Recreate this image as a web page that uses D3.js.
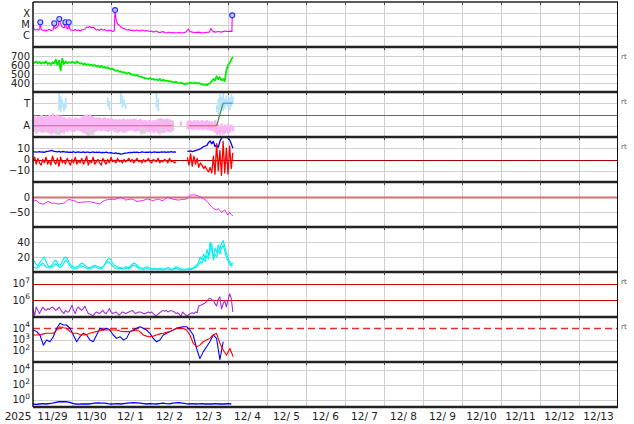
<!DOCTYPE html>
<html><head><meta charset="utf-8">
<script src="https://cdn.jsdelivr.net/npm/d3@7"></script>
<style>body{margin:0;background:#fff}svg{display:block}text{font-family:"DejaVu Sans",sans-serif;fill:#222}</style>
</head><body><svg id="c" width="634" height="424"></svg>
<script>
// ---------------- DATA ----------------
const startDay = "2025-11-29", endDay = "2025-12-14";
const yearLabel = "2025";

// X-ray flux (W/m2)
const xrayHour = [0,0.6,1.5,2.5,3.5,4.1,4.5,5.0,5.8,7,8,9,10,11,12.3,13.1,13.6,14.5,15.5,16.2,17,18,19.3,19.9,20.5,21.5,22.0,22.6,23.5,25,26,27,28,29,30,31,32,33,34,35,36,37,38,39,40,41,42,43,44,45,46,47,48,49,50.0,50.5,51.2,52,53,54,55,56,57,58,59,60,61,62,63,64,65,66,67,68,69,70,71,72,73,74,75,76,77,78,79,80,81,82,83,84,85,86,88,90,92,94,95.6,96.5,98,100,102,104,106,108.5,109.5,110.5,112,114,116,118,120,122,122.4,122.6,123];
const xrayFlux = [1.23e-5,4.0e-6,3.2e-6,3.6e-6,3.2e-6,4.0e-6,1.6e-5,4.0e-6,2.95e-6,3.2e-6,2.6e-6,3.2e-6,3.6e-6,2.95e-6,3.2e-6,1.3e-5,4.4e-6,5.4e-6,7.4e-6,3.1e-5,1.1e-5,6.0e-6,4.9e-6,1.6e-5,5.4e-6,4.0e-6,1.6e-5,4.0e-6,3.2e-6,2.95e-6,3.6e-6,2.95e-6,3.2e-6,2.6e-6,3.2e-6,3.6e-6,4.0e-6,6.0e-6,5.4e-6,6.6e-6,4.9e-6,6.0e-6,4.4e-6,3.2e-6,3.6e-6,2.95e-6,4.0e-6,3.2e-6,3.6e-6,2.95e-6,2.6e-6,3.2e-6,2.95e-6,2.4e-6,2.6e-6,1.9e-4,2.5e-5,1.1e-5,9.1e-6,6.0e-6,4.9e-6,4.4e-6,3.6e-6,3.2e-6,3.6e-6,2.95e-6,3.2e-6,2.6e-6,2.95e-6,3.2e-6,2.95e-6,2.6e-6,3.2e-6,2.95e-6,2.6e-6,2.95e-6,2.6e-6,2.4e-6,2.6e-6,2.1e-6,2.4e-6,2.6e-6,2.1e-6,1.95e-6,2.1e-6,2.4e-6,1.95e-6,1.74e-6,1.95e-6,2.1e-6,1.74e-6,1.95e-6,1.74e-6,1.95e-6,1.74e-6,2.1e-6,4.0e-6,2.4e-6,2.1e-6,1.95e-6,2.1e-6,1.74e-6,1.95e-6,2.1e-6,4.4e-6,2.6e-6,2.1e-6,2.4e-6,2.1e-6,2.6e-6,2.4e-6,2.6e-6,2.4e-6,6.5e-5,3.8e-5];
const flareHour = [4.5,13.1,16.2,19.9,22.0,50.5,122.6];
const flareFlux = [1.6e-5,1.3e-5,3.1e-5,1.6e-5,1.6e-5,1.9e-4,6.5e-5];
const xrayClassFlux = [1e-4,1e-5,1e-6];
const xrayClassLabel = ["X","M","C"];

// Solar wind speed (km/s), hourly from 11/29 00UT
const windSpeed = [630,625,640,620,635,615,630,620,640,610, 625,605,630,615,660,600,650,540,670,610,
 640,620,630,625,635,630,620,640,625,615, 620,605,615,600,610,595,605,590,600,585,
 595,575,590,570,580,565,575,560,555,560, 545,535,540,525,530,515,520,510,505,515,
 500,490,495,480,490,475,470,465,460,455, 450,445,455,440,445,435,440,430,445,425,
 435,430,420,425,415,420,410,405,415,400, 395,405,400,385,395,390,400,405,395,400,
 405,395,400,390,385,380,385,375,390,400, 420,445,430,475,440,465,430,445,420,540,
 600,620,660,690];
const speedTicks = [400,500,600,700];

// IMF sector (A=1, T=3), hourly ranges
const sectorPinkLo = [0.4,0.5,0.3,0.45,0.55,0.4,0.35,0.5,0.45,0.4, 0.3,0.2,0.35,0.4,0.25,0.3,0.2,0.35,0.4,0.3,
 0.5,0.45,0.6,0.5,0.55,0.45,0.5,0.6,0.55,0.5, 0.4,0.35,0.3,0.2,0.15,0.2,0.25,0.3,0.45,0.5,
 0.6,0.55,0.5,0.6,0.55,0.5,0.45,0.5,0.55,0.6, 0.45,0.4,0.35,0.45,0.5,0.4,0.35,0.45,0.5,0.55,
 0.6,0.55,0.5,0.45,0.5,0.55,0.4,0.35,0.3,0.45, 0.5,0.45,0.4,0.5,0.35,0.4,0.45,0.3,0.4,0.45,
 0.35,0.4,0.5,0.45,0.4,0.5,0.55,null,null,null, null,1.0,null,null,null,0.7,0.65,0.7,0.6,0.65,
 0.7,0.6,0.65,0.7,0.6,0.65,0.7,0.6,0.65,0.55, 0.6,0.5,0.4,0.2,0.3,0.15,0.4,0.2,0.3,0.5,
 0.3,0.4,0.6,0.5];
const sectorPinkHi = [1.8,1.9,1.7,1.85,1.8,1.95,1.75,1.8,1.9,1.85, 2.0,1.9,2.1,1.85,1.95,2.0,1.8,1.9,1.75,1.8,
 1.7,1.6,1.75,1.65,1.7,1.6,1.75,1.7,1.65,1.7, 1.8,1.85,1.95,2.0,1.9,2.0,1.85,1.8,1.7,1.75,
 1.7,1.75,1.65,1.7,1.75,1.6,1.7,1.65,1.7,1.6, 1.55,1.6,1.5,1.6,1.55,1.6,1.65,1.5,1.6,1.55,
 1.6,1.55,1.65,1.6,1.5,1.55,1.6,1.5,1.45,1.5, 1.4,1.5,1.45,1.4,1.5,1.45,1.55,1.6,1.7,1.65,
 1.6,1.55,1.65,1.6,1.55,1.5,1.45,null,null,null, null,1.4,null,null,null,1.4,1.5,1.45,1.4,1.5,
 1.45,1.5,1.4,1.45,1.5,1.4,1.45,1.5,1.4,1.35, 1.4,1.3,1.5,1.2,1.1,1.0,1.2,0.9,1.1,1.0,
 1.2,1.0,1.1,0.9];
const sectorGrayHour = [2,8,15,16,34,35,36,37,52,66,67,68,69,78,79,85];
const sectorGrayLo = [0.3,0.4,0.2,0.3,0.1,0.15,0.2,0.1,0.4,0.3,0.2,0.35,0.3,0.2,0.3,0.4];
const sectorGrayHi = [0.8,0.9,0.7,0.9,0.6,0.7,0.8,0.5,0.9,0.8,0.6,0.8,0.7,0.7,0.8,0.9];
const sectorBlueHour = [16,17,18,19,20,46,47,54,55,56,57,76,77,113,114,115,116,117,118,119,120,121,122,123];
const sectorBlueLo = [2.4,2.2,2.6,2.3,2.5,2.7,2.4,3.0,2.6,2.8,2.5,2.6,2.3,2.2,2.0,2.4,2.6,2.3,2.5,2.8,2.6,2.4,2.7,2.9];
const sectorBlueHi = [3.9,3.6,3.3,3.0,3.5,3.5,3.2,3.9,3.7,3.3,3.0,3.9,3.4,2.8,3.4,3.8,3.6,3.9,3.4,3.7,3.3,3.5,3.8,3.6];
const sectorRunStart = [0,96,117];
const sectorRunEnd = [86,113,123];
const sectorRunPol = ["A","A","T"];
const sectorLabels = ["T","A"];

// IMF Bt and Bz (nT), hourly
const imfBt = [7,6.8,6.5,6.7,7,6.6,6.8,6.4,6.9,7.2, 7.5,8,7.8,7.2,7,6.8,7.3,6.6,6.9,7.1,
 6.5,6.8,6.3,6.6,6.4,6.9,6.2,6.5,6.7,6.3, 6.4,6.8,6.2,6.6,6.5,6.1,6.4,6.7,6.2,6.5,
 6.3,6.6,6.0,6.4,6.2,6.5,6.1,5.8,6.0,5.6, 5.4,5.8,5.2,5.5,4.8,5.0,5.4,5.7,5.9,6.2,
 6.4,6.1,6.5,6.3,6.6,6.2,6.4,6.8,6.5,6.3, 6.6,6.4,6.7,6.2,6.5,6.8,6.4,6.6,6.3,6.7,
 6.5,6.8,6.4,6.7,6.5,6.9,6.6,6.8,6.5,null, null,null,null,6.8,null,7.4,7.2,7.6,7.0,7.4,
 7.8,8.5,8.8,9.5,10.5,11.5,12,12.5,15,16.5, 14,16,11.5,13,10.8,16,19,20,20.5,20,
 19,17.5,14,10];
const imfBz = [-2,2,-4,1,-3,-5,0,-3,2,-4, -1,-5,3,-2,-4,1,-6,2,-3,-1,
 -4,1,-2,-5,0,-3,2,-4,-1,-3, 1,-4,-2,3,-5,-1,-3,2,-4,-2,
 0,-3,-5,1,-2,-4,0,-3,2,-2, -1,-3,1,-2,-1,-3,0,-2,-1,1,
 -2,0,-3,-1,1,-2,-1,-3,0,-2, -1,1,-2,-3,0,-1,-2,1,-3,-1,
 -2,0,-1,-3,1,-2,-1,-3,-2,null, null,null,null,-1,null,2,-5,5,-6,3,
 -4,1,-7,-3,-5,-8,-6,-9,-11,-7, -12,3,-13,14,-10,8,-14,16,-12,10,
 -13,12,-8,6];
const imfTicks = [10,0,-10];

// Dst (nT), hourly
const dst = [-10,-11,-12,-16,-21,-22,-23,-23,-19,-15, -17,-19,-21,-20,-22,-23,-23,-22,-21,-21,
 -17,-12,-8,-9,-11,-12,-14,-17,-19,-18, -17,-17,-17,-16,-16,-16,-17,-18,-19,-21,
 -22,-23,-19,-15,-12,-10,-9,-8,-8,-8, -8,-7,-5,-3,-1,-3,-6,-10,-9,-8,
 -7,-7,-9,-12,-15,-14,-13,-12,-11,-9, -7,-7,-9,-11,-13,-10,-8,-7,-9,-11,
 -12,-8,-4,-1,-3,-5,-7,-8,-9,-10, -10,-9,-8,-8,-7,-4,2,6,7,7,
 6,5,2,0,-3,-6,-10,-14,-20,-27, -33,-38,-41,-43,-38,-45,-51,-47,-43,-52,
 -60,-51,-58,-63];
const dstTicks = [0,-50];

// Solar wind density (/cc), two sources, hourly
const density1 = [16,14,10,8,12,15,18,20,14,9, 7,8,10,14,16,12,8,10,14,18,
 20,18,14,10,8,7,6,7,8,10, 12,11,9,7,6,6,7,8,9,8,
 7,6,6,7,10,14,17,18,16,12, 9,8,7,6,6,5,6,7,6,6,
 8,10,12,11,9,7,6,5,5,6, 7,6,5,5,4,5,4,4,5,5,
 4,4,5,6,5,4,4,5,7,6, 5,4,4,3,4,4,5,4,5,6,
 8,10,14,20,16,24,18,30,22,40, 28,20,32,26,36,30,38,42,34,26,
 18,14,10,12];
const density2 = [7,6,5,6,8,10,12,9,7,6, 5,6,7,9,11,9,7,6,8,12,
 16,14,10,7,5,5,4,5,6,7, 8,7,6,5,4,5,5,6,7,6,
 5,5,4,6,9,12,14,13,10,8, 6,5,5,4,5,4,4,5,5,4,
 6,8,9,8,7,5,4,4,3,4, 5,4,4,3,3,4,3,3,4,3,
 3,3,4,4,3,3,3,4,5,4, 3,3,3,3,3,3,4,3,4,5,
 6,7,10,14,12,18,14,22,17,28, 38,16,24,20,30,24,32,36,28,20,
 15,10,8,9];
const densityTicks = [20,40];

// >2 MeV electron flux, hourly
const electronFlux = [3.2e5,1.2e5,4.0e5,2.5e5,1.6e5,2.5e5,4.0e5,3.0e5,2.5e5,3.2e5,
 2.8e5,3.5e5,4.0e5,3.2e5,2.5e5,3.0e5,4.0e5,2.8e5,2.0e5,1.6e5,
 2.5e5,2.0e5,2.0e5,3.2e5,5.0e5,2.5e5,1.6e5,3.2e5,4.0e5,3.0e5,
 2.5e5,3.2e5,4.5e5,2.5e5,1.6e5,1.5e5,1.3e5,1.2e5,1.6e5,2.0e5,
 1.8e5,1.6e5,2.0e5,2.5e5,1.8e5,1.6e5,2.2e5,3.2e5,2.0e5,1.6e5,
 1.8e5,2.0e5,1.6e5,1.3e5,1.6e5,2.0e5,1.8e5,1.6e5,1.8e5,2.0e5,
 2.2e5,2.5e5,2.0e5,1.6e5,1.8e5,2.0e5,2.0e5,1.8e5,1.6e5,1.6e5,
 1.8e5,2.0e5,1.8e5,2.0e5,1.6e5,1.3e5,1.2e5,1.5e5,1.8e5,2.2e5,
 2.5e5,2.2e5,2.5e5,2.0e5,2.2e5,2.5e5,2.2e5,2.0e5,1.6e5,1.8e5,
 1.5e5,1.0e5,2.0e5,1.6e5,1.3e5,1.2e5,1.4e5,1.6e5,1.8e5,1.6e5,
 2.0e5,1.8e5,4.5e5,5.0e5,5.5e5,6.3e5,7.0e5,9.0e5,1.2e6,1.3e6,
 1.1e6,1.0e6,6.3e5,4.5e5,1.2e6,1.6e6,3.0e5,6.0e5,1.0e6,4.0e5,
 1.0e6,2.5e6,1.3e6,2.0e5];
const electronRef = [1e7,1e6];
const electronExp = ["7","6"];

// Panel 8 fluxes (log10), every 2.05 h from 0.2 h
const flux8Start = 0.2, flux8Step = 2.05;
const flux8BlueLog = [3.84,3.7,3.4,2.5,2.96,2.8,3.25,4.0,4.44,4.29, 4.29,4.0,3.4,2.8,3.25,3.55,3.4,2.96,2.8,3.4,
 4.0,3.84,4.0,3.84,3.4,3.1,3.25,2.96,3.1,3.7, 3.84,4.0,4.14,4.0,3.84,3.55,3.1,2.8,2.96,3.4,
 3.55,3.7,3.84,4.0,4.08,4.14,4.14,3.84,3.4,2.2, 1.3,1.9,2.36,2.8,3.4,3.1,1.2,2.8];
const flux8RedLog = [3.4,3.4,3.4,3.5,3.55,3.55,3.55,3.84,4.14,4.05, 4.0,3.7,3.55,3.55,3.45,3.4,3.45,3.55,3.64,3.7,
 3.78,3.84,3.84,3.84,3.84,3.84,3.75,3.7,3.7,3.7, 3.78,3.84,3.7,3.4,3.3,3.25,3.3,3.4,3.5,3.55,
 3.64,3.7,3.84,4.0,4.0,4.0,3.84,3.4,2.66,2.36, 2.5,2.8,2.96,3.1,3.4,3.55,2.66,2.07,1.6,2.2,1.46];
const flux8Threshold = 1e4;
const flux8Ticks = [1e4,1e3,1e2];
const flux8Exp = ["4","3","2"];

// Panel 9 flux, every 2 h
const flux9 = [0.25,0.22,0.25,0.28,0.25,0.28,0.32,0.4,0.5,0.52, 0.5,0.45,0.32,0.25,0.24,0.25,0.26,0.25,0.28,0.32,
 0.35,0.32,0.33,0.28,0.25,0.26,0.28,0.25,0.28,0.32, 0.35,0.38,0.35,0.32,0.28,0.25,0.28,0.26,0.25,0.28,
 0.32,0.28,0.26,0.32,0.35,0.38,0.33,0.28,0.25,0.28, 0.25,0.26,0.28,0.25,0.26,0.25,0.28,0.25,0.26,0.25,
 0.28,0.25];
const flux9Ticks = [1e4,1e2,1];
const flux9Exp = ["4","2","0"];

const rtPanels = [1,2,3,6,7];

// ---------------- LAYOUT ----------------
const svg = d3.select("#c");
const X0 = 33, X1 = 618, TOP = 2, PH = 45, NP = 9;
const t0 = new Date(startDay + "T00:00:00Z");
const hr = h => new Date(t0.getTime() + h * 3600000);
const x = d3.scaleUtc().domain([t0, new Date(endDay + "T00:00:00Z")]).range([X0, X1]);
const pTop = k => TOP + PH * k;

const ys = [
  d3.scaleLog().domain([1e-7, 1e-3]),
  d3.scaleLinear().domain([300, 800]),
  d3.scaleLinear().domain([0, 4]),
  d3.scaleLinear().domain([-20, 20]),
  d3.scaleLinear().domain([-100, 50]),
  d3.scaleLinear().domain([0, 60]),
  d3.scaleLog().domain([1e5, Math.pow(10, 7.7)]),
  d3.scaleLog().domain([10, 1e5]),
  d3.scaleLog().domain([0.1, 1e5])
];
ys.forEach((s, k) => s.range([pTop(k) + PH, pTop(k)]));

const defs = svg.append("defs");
for (let k = 0; k < NP; k++) {
  defs.append("clipPath").attr("id", "clip" + k).append("rect")
    .attr("x", X0).attr("y", pTop(k)).attr("width", X1 - X0).attr("height", PH);
}
const gGrid = svg.append("g");
const panels = d3.range(NP).map(k => svg.append("g").attr("clip-path", `url(#clip${k})`));
const gFrame = svg.append("g");
const gText = svg.append("g");

// vertical gridlines (day boundaries)
const days = d3.utcDay.range(t0, new Date(endDay + "T00:00:00Z"));
gGrid.selectAll("line.vg").data(days.slice(1)).join("line")
  .attr("x1", d => x(d) + 0.5).attr("x2", d => x(d) + 0.5)
  .attr("y1", TOP).attr("y2", pTop(NP)).attr("stroke", "#cfcfcf").attr("stroke-width", 1);

function hline(k, v, color, w, dash) {
  const y = Math.round(ys[k](v)) + 0.5;
  const l = gGrid.append("line").attr("x1", X0).attr("x2", X1).attr("y1", y).attr("y2", y)
    .attr("stroke", color).attr("stroke-width", w || 1);
  if (dash) l.attr("stroke-dasharray", dash);
  return l;
}
const FS = 10;
function label(k, v, txt) {
  gText.append("text").attr("x", 30).attr("y", ys[k](v) + 3.6).attr("text-anchor", "end")
    .attr("font-size", FS).text(txt);
}
function supLabel(k, v, exp) {
  const t = gText.append("text").attr("x", 30).attr("y", ys[k](v) + 3.6).attr("text-anchor", "end")
    .attr("font-size", FS);
  t.append("tspan").text("10");
  t.append("tspan").attr("dy", -4.5).attr("font-size", 7.5).text(exp);
}
function series(k, hours, vals, color, w) {
  const data = vals.map((v, i) => ({ t: hr(hours[i]), v }));
  panels[k].append("path").datum(data)
    .attr("d", d3.line().defined(d => d.v != null).x(d => x(d.t)).y(d => ys[k](d.v)))
    .attr("fill", "none").attr("stroke", color).attr("stroke-width", w || 1).attr("stroke-linejoin", "round");
}
const hourly = n => d3.range(n);

// Panel 0: X-ray
xrayClassFlux.forEach((f, i) => { hline(0, f, "#d0d0d0"); label(0, f, xrayClassLabel[i]); });
series(0, xrayHour, xrayFlux, "#ff00ff", 1.1);
panels[0].selectAll("circle").data(flareHour).join("circle")
  .attr("cx", (h) => x(hr(h))).attr("cy", (h, i) => ys[0](flareFlux[i])).attr("r", 2.5)
  .attr("fill", "#c8c8ff").attr("stroke", "#2a2aff").attr("stroke-width", 1.1);

// Panel 1: speed
speedTicks.forEach(v => { hline(1, v, "#d0d0d0"); label(1, v, v); });
series(1, hourly(windSpeed.length), windSpeed, "#00ee00", 1.8);

// Panel 2: sector
hline(2, 3, "#d0d0d0"); hline(2, 1, "#d0d0d0"); hline(2, 2, "#666", 1);
label(2, 3, sectorLabels[0]); label(2, 1, sectorLabels[1]);
panels[2].selectAll("rect.pk").data(sectorPinkLo.map((lo, i) => ({ h: i, lo, hi: sectorPinkHi[i] })).filter(d => d.lo != null))
  .join("rect").attr("x", d => x(hr(d.h)) - 1).attr("width", 2.4)
  .attr("y", d => ys[2](d.hi)).attr("height", d => ys[2](d.lo) - ys[2](d.hi))
  .attr("fill", "#f9b6f3");
panels[2].selectAll("rect.gy").data(sectorGrayHour.map((h, i) => ({ h, lo: sectorGrayLo[i], hi: sectorGrayHi[i] })))
  .join("rect").attr("x", d => x(hr(d.h)) - 1).attr("width", 2)
  .attr("y", d => ys[2](d.hi)).attr("height", d => ys[2](d.lo) - ys[2](d.hi))
  .attr("fill", "#d4d4d4").attr("opacity", 0.8);
panels[2].selectAll("rect.bl").data(sectorBlueHour.map((h, i) => ({ h, lo: sectorBlueLo[i], hi: sectorBlueHi[i] })))
  .join("rect").attr("x", d => x(hr(d.h)) - 0.8).attr("width", 1.8)
  .attr("y", d => ys[2](d.hi)).attr("height", d => ys[2](d.lo) - ys[2](d.hi))
  .attr("fill", "#b4e4fb");
const polVal = { A: 1, T: 3 }, polCol = { A: "#ff5a5a", T: "#5b8cff" };
sectorRunStart.forEach((s, i) => {
  const p = sectorRunPol[i];
  panels[2].append("line").attr("x1", x(hr(s))).attr("x2", x(hr(sectorRunEnd[i])))
    .attr("y1", ys[2](polVal[p])).attr("y2", ys[2](polVal[p])).attr("stroke", polCol[p]).attr("stroke-width", 1.2);
  if (i > 0 && sectorRunPol[i - 1] !== p) {
    panels[2].append("line").attr("x1", x(hr(sectorRunEnd[i - 1]))).attr("x2", x(hr(s)))
      .attr("y1", ys[2](polVal[sectorRunPol[i - 1]])).attr("y2", ys[2](polVal[p]))
      .attr("stroke", "#4c8a4c").attr("stroke-width", 1.2);
  }
});

// Panel 3: IMF
hline(3, 10, "#d0d0d0"); hline(3, -10, "#d0d0d0");
imfTicks.forEach(v => label(3, v, v < 0 ? "\u2212" + (-v) : v));
series(3, hourly(imfBt.length), imfBt, "#0000ff", 1.3);
series(3, hourly(imfBz.length), imfBz, "#ff0000", 1.3);
hline(3, 0, "#aa0000", 1).raise();

// Panel 4: Dst
hline(4, -50, "#d0d0d0");
hline(4, 0, "#d27070", 2.2);
dstTicks.forEach(v => label(4, v, v < 0 ? "\u2212" + (-v) : v));
series(4, hourly(dst.length), dst, "#ee22ee", 1);

// Panel 5: density
densityTicks.forEach(v => { hline(5, v, "#d0d0d0"); label(5, v, v); });
series(5, hourly(density1.length), density1, "#00f0f0", 1.1);
series(5, hourly(density2.length), density2, "#00f0f0", 1.1);

// Panel 6: electrons
electronRef.forEach((v, i) => { hline(6, v, "#cc0000", 1); supLabel(6, v, electronExp[i]); });
series(6, hourly(electronFlux.length), electronFlux, "#a030d0", 1.1);

// Panel 7
flux8Ticks.forEach((v, i) => { if (v !== flux8Threshold) hline(7, v, "#d0d0d0"); supLabel(7, v, flux8Exp[i]); });
hline(7, flux8Threshold, "#dd3030", 1.4, "7,4");
const h8b = flux8BlueLog.map((v, i) => flux8Start + i * flux8Step);
const h8r = flux8RedLog.map((v, i) => flux8Start + i * flux8Step);
series(7, h8b, flux8BlueLog.map(v => Math.pow(10, v)), "#0000ff", 1.1);
series(7, h8r, flux8RedLog.map(v => Math.pow(10, v)), "#ff0000", 1.1);

// Panel 8
flux9Ticks.forEach((v, i) => { hline(8, v, "#d0d0d0"); supLabel(8, v, flux9Exp[i]); });
series(8, flux9.map((v, i) => i * 2), flux9, "#0000ff", 1.3);

// Frame: separators, axes
for (let k = 0; k <= NP; k++) {
  const y = pTop(k);
  gFrame.append("line").attr("x1", X0).attr("x2", X1).attr("y1", y).attr("y2", y)
    .attr("stroke", "#222").attr("stroke-width", k === 0 ? 1.5 : 2.4);
  if (k < NP) {
    days.slice(1).forEach(d => {
      gFrame.append("line").attr("x1", x(d) + 0.5).attr("x2", x(d) + 0.5).attr("y1", y).attr("y2", y + 3)
        .attr("stroke", "#444").attr("stroke-width", 1);
    });
  }
}
gFrame.append("line").attr("x1", X0).attr("x2", X0).attr("y1", TOP).attr("y2", pTop(NP))
  .attr("stroke", "#111").attr("stroke-width", 1.5);
gFrame.append("line").attr("x1", X1 - 0.5).attr("x2", X1 - 0.5).attr("y1", TOP).attr("y2", pTop(NP))
  .attr("stroke", "#111").attr("stroke-width", 1);

// rt labels
rtPanels.forEach(k => {
  gText.append("text").attr("x", 621).attr("y", pTop(k) + 12).attr("font-size", 7).style("fill", "#555").text("rt");
});

// bottom axis labels
const fmt = d3.utcFormat("%m/%e");
gText.selectAll("text.day").data(days).join("text")
  .attr("x", d => x(d3.utcHour.offset(d, 12))).attr("y", 420).attr("text-anchor", "middle")
  .attr("font-size", 10.5).style("white-space", "pre").attr("xml:space", "preserve").text(d => fmt(d));
gText.append("text").attr("x", 18).attr("y", 420).attr("text-anchor", "middle").attr("font-size", 10.5).text(yearLabel);
</script></body></html>
